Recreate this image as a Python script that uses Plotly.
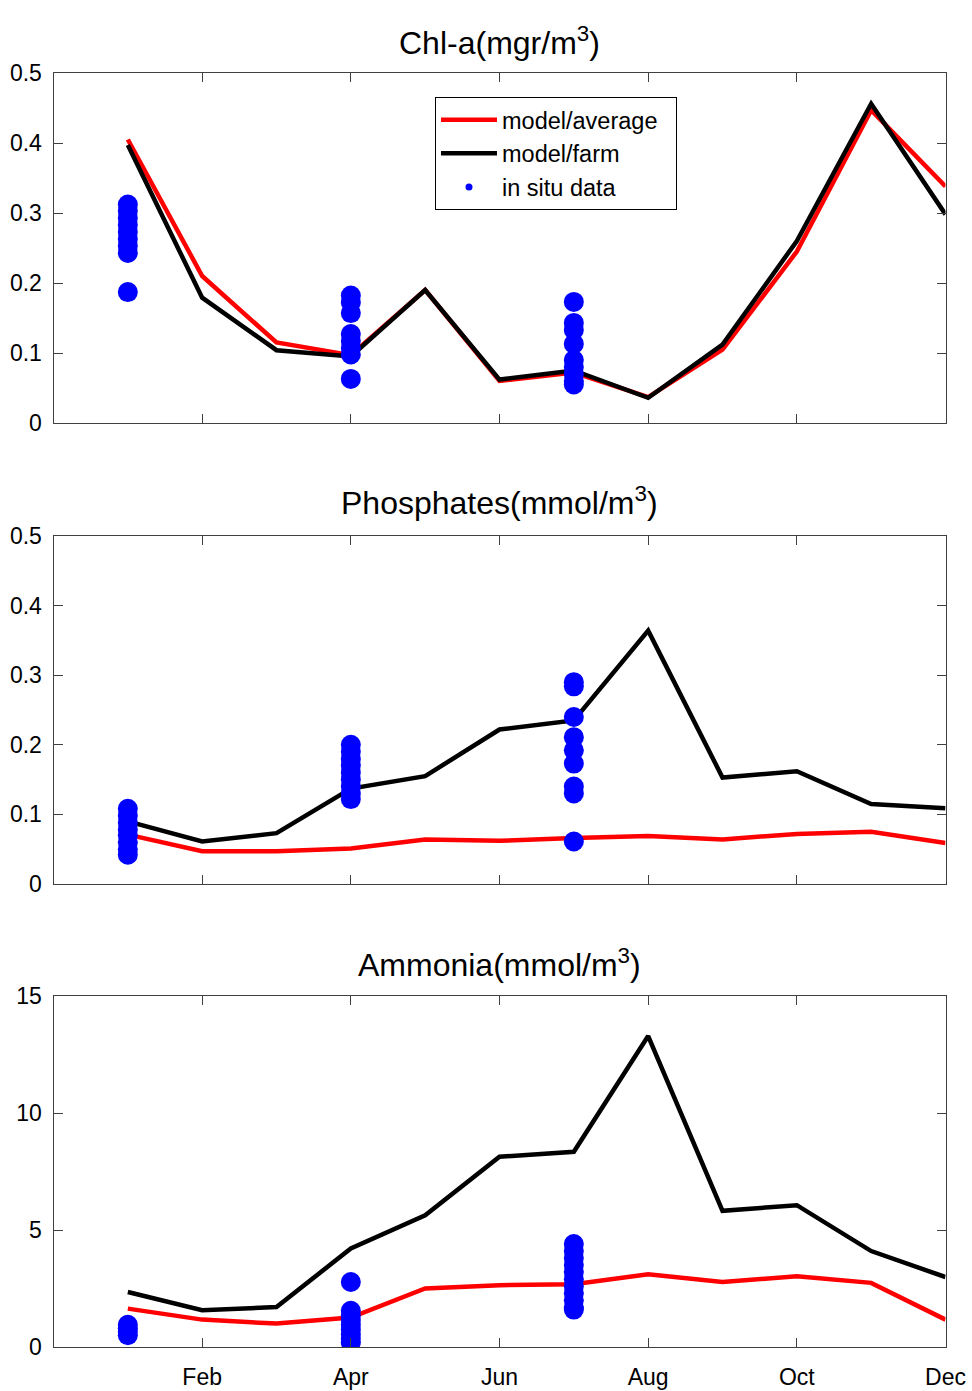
import plotly.graph_objects as go

# ---------------- data ----------------
months = [1, 2, 3, 4, 5, 6, 7, 8, 9, 10, 11, 12]
tick_vals = [2, 4, 6, 8, 10, 12]
tick_text = ["Feb", "Apr", "Jun", "Aug", "Oct", "Dec"]

chl_avg = [0.405, 0.210, 0.115, 0.097, 0.190, 0.060, 0.072, 0.037, 0.105, 0.245, 0.447, 0.338]
chl_farm = [0.397, 0.179, 0.104, 0.095, 0.190, 0.062, 0.075, 0.036, 0.112, 0.260, 0.456, 0.298]
chl_obs_x = [1] * 9 + [4] * 8 + [7] * 9
chl_obs_y = [0.312, 0.303, 0.293, 0.283, 0.273, 0.263, 0.253, 0.243, 0.187,
             0.182, 0.172, 0.157, 0.127, 0.117, 0.107, 0.098, 0.063,
             0.173, 0.143, 0.133, 0.113, 0.090, 0.080, 0.070, 0.060, 0.055]

pho_avg = [0.071, 0.047, 0.047, 0.051, 0.064, 0.062, 0.066, 0.069, 0.064, 0.072, 0.075, 0.059]
pho_farm = [0.090, 0.061, 0.073, 0.137, 0.155, 0.222, 0.235, 0.364, 0.153, 0.162, 0.115, 0.109]
pho_obs_x = [1] * 8 + [4] * 9 + [7] * 9
pho_obs_y = [0.108, 0.098, 0.088, 0.078, 0.070, 0.060, 0.050, 0.042,
             0.200, 0.190, 0.180, 0.170, 0.160, 0.150, 0.140, 0.130, 0.122,
             0.290, 0.284, 0.240, 0.211, 0.192, 0.173, 0.140, 0.130, 0.061]

amm_avg = [1.64, 1.17, 1.00, 1.26, 2.50, 2.64, 2.68, 3.11, 2.78, 3.02, 2.74, 1.17]
amm_farm = [2.35, 1.57, 1.71, 4.21, 5.63, 8.13, 8.34, 13.29, 5.82, 6.06, 4.10, 2.99]
amm_obs_x = [1] * 4 + [4] * 9 + [7] * 11
amm_obs_y = [0.95, 0.80, 0.65, 0.50,
             2.78, 1.55, 1.35, 1.15, 0.95, 0.75, 0.55, 0.35, 0.20,
             4.40, 4.10, 3.80, 3.50, 3.20, 2.90, 2.60, 2.30, 2.00, 1.70, 1.60]

titles = ["Chl-a(mgr/m<sup>3</sup>)", "Phosphates(mmol/m<sup>3</sup>)", "Ammonia(mmol/m<sup>3</sup>)"]
legend_names = ["model/average", "model/farm", "in situ data"]
y_ranges = [[0, 0.5], [0, 0.5], [0, 15]]
y_dtick = [0.1, 0.1, 5]

# ---------------- layout geometry ----------------
W, H = 972, 1391
x_dom = [53.5 / W, 945.5 / W]
panels_px = [(73, 423), (536, 884), (996, 1347)]
title_px = [41, 501, 963]

FONT = "Liberation Sans, Arial, Helvetica, sans-serif"
RED = "#ff0000"
BLACK = "#000000"
BLUE = "#0000ff"
AXC = "#404040"
PAD = "\u00a0" * 2

fig = go.Figure()

series = [
    (chl_avg, chl_farm, chl_obs_x, chl_obs_y),
    (pho_avg, pho_farm, pho_obs_x, pho_obs_y),
    (amm_avg, amm_farm, amm_obs_x, amm_obs_y),
]

for i, (avg, farm, ox, oy) in enumerate(series):
    xa = "x" if i == 0 else f"x{i+1}"
    ya = "y" if i == 0 else f"y{i+1}"
    first = i == 0
    fig.add_trace(go.Scatter(x=months, y=avg, mode="lines", name=legend_names[0] + PAD,
                             line=dict(color=RED, width=4.5), xaxis=xa, yaxis=ya,
                             showlegend=first, legendgroup="avg"))
    fig.add_trace(go.Scatter(x=months, y=farm, mode="lines", name=legend_names[1],
                             line=dict(color=BLACK, width=4.5), xaxis=xa, yaxis=ya,
                             showlegend=first, legendgroup="farm"))
    fig.add_trace(go.Scatter(x=ox, y=oy, mode="markers", name=legend_names[2],
                             marker=dict(color=BLUE, size=20, line=dict(width=0)),
                             xaxis=xa, yaxis=ya, showlegend=False, legendgroup="obs"))

# legend entry for in situ data (small dot as in the original legend)
fig.add_trace(go.Scatter(x=[None], y=[None], mode="markers", name=legend_names[2],
                         marker=dict(color=BLUE, size=7), xaxis="x", yaxis="y",
                         showlegend=True, legendgroup="obs"))

layout = dict(
    width=W, height=H,
    template="none",
    paper_bgcolor="white", plot_bgcolor="white",
    margin=dict(l=0, r=0, t=0, b=0),
    font=dict(family=FONT, size=23, color="black"),
    showlegend=True,
    legend=dict(x=435 / W, y=1 - 97 / H, xanchor="left", yanchor="top",
                bordercolor="black", borderwidth=1, bgcolor="white",
                font=dict(family=FONT, size=23.5, color="black"),
                itemwidth=56, tracegroupgap=0),
    annotations=[],
)

for i, (top, bot) in enumerate(panels_px):
    sfx = "" if i == 0 else str(i + 1)
    layout["xaxis" + sfx] = dict(
        domain=x_dom, range=[0, 12], anchor="y" + sfx,
        tickmode="array", tickvals=tick_vals, ticktext=tick_text,
        showticklabels=(i == 2),
        ticks="inside", ticklen=9, tickwidth=1, tickcolor=AXC,
        showline=True, linecolor=AXC, linewidth=1, mirror="ticks",
        showgrid=False, zeroline=False, automargin=False,
        tickfont=dict(family=FONT, size=23, color="black"),
        ticklabelstandoff=9,
    )
    layout["yaxis" + sfx] = dict(
        domain=[1 - bot / H, 1 - top / H], range=y_ranges[i], anchor="x" + sfx,
        tickmode="linear", tick0=0, dtick=y_dtick[i],
        ticks="inside", ticklen=9, tickwidth=1, tickcolor=AXC,
        showline=True, linecolor=AXC, linewidth=1, mirror="ticks",
        showgrid=False, zeroline=False, automargin=False,
        tickfont=dict(family=FONT, size=23, color="black"),
        ticklabelstandoff=6,
    )
    layout["annotations"].append(dict(
        text=titles[i], xref="paper", yref="paper",
        x=(x_dom[0] + x_dom[1]) / 2, y=1 - title_px[i] / H,
        xanchor="center", yanchor="middle", showarrow=False,
        font=dict(family=FONT, size=32, color="black"),
    ))

fig.update_layout(**layout)
fig.write_html("out.html")
